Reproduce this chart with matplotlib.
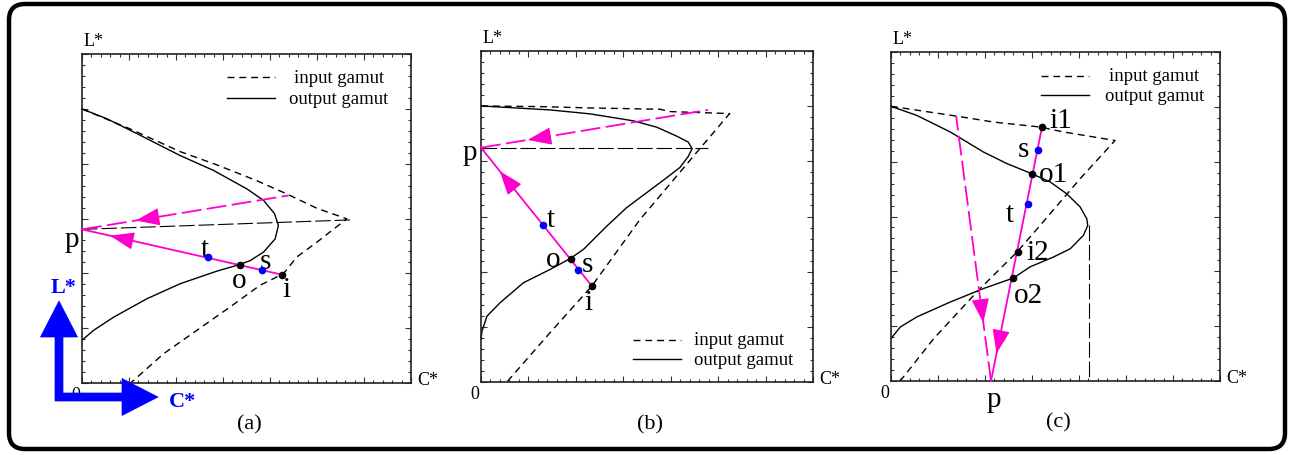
import numpy as np
import matplotlib
matplotlib.use("Agg")
import matplotlib.pyplot as plt
from matplotlib.patches import FancyBboxPatch, Polygon

plt.rcParams["font.family"] = ["Liberation Serif", "DejaVu Serif"]

MAG = "#ff00cc"
BLUE = "#0000ff"
W, H = 1293, 456

# ---------------- panel (a) ----------------
a_out_c = [0, 7.6, 16.7, 29.9, 40.0, 50.1, 55.2, 58.5, 59.7, 58.7, 55.2, 51.1, 47.9, 41.0, 29.9, 19.7, 9.6, 3.5, 0]
a_out_l = [83.3, 80.3, 75.8, 69.1, 64.6, 59.0, 55.5, 51.5, 47.9, 43.8, 39.8, 37.2, 36.0, 34.0, 30.2, 25.6, 20.0, 16.0, 13.0]
a_in_c = [0, 14.7, 29.9, 41.0, 53.1, 62.2, 71.4, 80.5, 71.4, 65.3, 61.2, 54.1, 45.0, 34.9, 24.8, 15.7, 14.7]
a_in_l = [83.3, 77.2, 70.3, 66.3, 61.5, 57.5, 53.1, 49.9, 42.8, 38.3, 33.2, 29.7, 23.1, 16.0, 8.9, 0.8, 0]
a_p = (0, 46.7)
a_solid_end = (60.9, 32.9)
a_dash_end = (62.8, 57.0)
a_ref_c = [0, 82.5]
a_ref_l = [46.7, 49.6]
a_pt_c = [38.2, 47.9, 54.7, 60.9]
a_pt_l = [38.2, 36.0, 34.2, 32.9]
a_pt_col = [BLUE, "black", BLUE, "black"]
a_lab = ["p", "t", "o", "s", "i"]
a_lab_c = [-3.2, 37.2, 47.9, 55.7, 62.2]
a_lab_l = [43.8, 40.8, 31.2, 37.2, 28.6]

# ---------------- panel (b) ----------------
b_out_c = [0, 20.8, 32.9, 45.9, 52.9, 58.9, 62.4, 63.6, 62.4, 59.9, 55.9, 49.9, 43.9, 37.9, 30.9, 26.9, 20.8, 12.8, 5.8, 1.8, 0.3, 0]
b_out_l = [83.4, 82.2, 81.0, 78.9, 77.0, 74.3, 72.5, 70.5, 68.1, 64.8, 61.7, 57.2, 52.7, 47.1, 40.1, 37.3, 34.0, 30.0, 24.0, 19.9, 15.4, 12.9]
b_in_c = [0, 17.8, 32.9, 53.9, 56.9, 74.9, 64.9, 47.9, 33.4, 20.8, 7.8]
b_in_l = [83.4, 83.2, 82.8, 82.4, 81.7, 81.1, 69.3, 49.1, 29.0, 14.9, 0]
b_p = (0, 70.8)
b_solid_end = (33.4, 29.0)
b_dash_end = (68.4, 82.2)
b_ref_c = [0, 68.4]
b_ref_l = [70.8, 70.8]
b_pt_c = [18.6, 27.0, 29.3, 33.4]
b_pt_l = [47.4, 37.1, 33.8, 29.0]
b_pt_col = [BLUE, "black", BLUE, "black"]
b_lab = ["p", "t", "o", "s", "i"]
b_lab_c = [-3.4, 21.1, 21.8, 32.0, 32.5]
b_lab_l = [69.5, 49.1, 37.1, 35.5, 24.2]

# ---------------- panel (c) ----------------
c_out_c = [0, 7.9, 18.0, 28.1, 35.2, 42.8, 48.4, 53.4, 57.5, 59.5, 59.8, 58.5, 54.5, 49.4, 42.3, 37.2, 28.1, 18.0, 7.9, 2.8, 0]
c_out_l = [83.5, 80.7, 75.7, 69.6, 66.1, 63.0, 60.5, 56.9, 52.9, 49.3, 47.3, 44.3, 40.2, 37.7, 34.7, 31.3, 28.1, 24.0, 19.5, 16.4, 12.9]
c_in_c = [0, 20.0, 31.2, 45.3, 52.4, 68.1, 57.5, 44.3, 38.3, 26.6, 13.0, 2.8]
c_in_l = [83.5, 80.5, 78.7, 77.2, 75.7, 73.1, 61.5, 46.1, 39.2, 27.6, 12.9, 0]
c_p = (30.4, 0)
c_solid_end = (45.9, 77.2)
c_dash_end = (19.8, 80.5)
c_ref_c = [60.2, 60.2]
c_ref_l = [47.3, 0]
c_pt_c = [45.9, 44.6, 43.0, 41.6, 38.5, 37.0]
c_pt_l = [77.2, 70.1, 63.0, 53.7, 39.2, 31.2]
c_pt_col = ["black", BLUE, "black", BLUE, "black", "black"]
c_lab = ["p", "i1", "s", "o1", "t", "i2", "o2"]
c_lab_c = [31.4, 51.6, 40.3, 49.4, 36.0, 44.5, 41.9]
c_lab_l = [-5.4, 79.2, 70.6, 63.0, 50.9, 39.2, 26.2]


def head(ax, p, q, frac):
    # filled arrow head on the segment q -> p, pointing at p
    p = np.array(p, float)
    q = np.array(q, float)
    d = q - p
    tip = p + frac * d
    tail = tip + d / np.linalg.norm(d) * 7
    ax.annotate("", xy=tip, xytext=tail,
                arrowprops=dict(arrowstyle="-|>,head_length=1.5,head_width=0.55",
                                color=MAG, lw=1, shrinkA=0, shrinkB=0,
                                mutation_scale=10))


def panel(box, out_c, out_l, in_c, in_l, p, solid_end, dash_end, ref_c, ref_l,
          pt_c, pt_l, pt_col, lab, lab_c, lab_l, heads, tag, legend):
    x0, y0, x1, y1 = box
    ax = fig.add_axes([x0 / W, 1 - y1 / H, (x1 - x0) / W, (y1 - y0) / H])
    ax.set_xlim(0, 100)
    ax.set_ylim(0, 100)
    ax.set_xticks(np.linspace(0, 100, 8))
    ax.set_xticks(np.linspace(0, 100, 36), minor=True)
    ax.set_yticks(np.linspace(0, 100, 7))
    ax.set_yticks(np.linspace(0, 100, 31), minor=True)
    ax.tick_params(which="both", direction="in", top=True, right=True,
                   labelbottom=False, labelleft=False, width=0.8, color="#333333")
    ax.tick_params(which="major", length=4.5)
    ax.tick_params(which="minor", length=2.5)
    for s in ax.spines.values():
        s.set_linewidth(1.2)
        s.set_color("#222222")

    ax.plot(out_c, out_l, color="black", lw=1.0, clip_on=False)
    ax.plot(in_c, in_l, color="black", lw=1.0, dashes=(5, 3.5), clip_on=False)
    ax.plot(ref_c, ref_l, color="black", lw=0.8, dashes=(14, 3.5))

    ax.plot([p[0], solid_end[0]], [p[1], solid_end[1]], color=MAG, lw=1.3,
            clip_on=False, zorder=3)
    ax.plot([p[0], dash_end[0]], [p[1], dash_end[1]], color=MAG, lw=1.3,
            dashes=(11, 3), clip_on=False, zorder=3)
    head(ax, p, solid_end, heads[0])
    head(ax, p, dash_end, heads[1])

    for c, l, col in zip(pt_c, pt_l, pt_col):
        ax.plot(c, l, "o", ms=4.5, color=col, zorder=5, clip_on=False)
    for t, c, l in zip(lab, lab_c, lab_l):
        ax.text(c, l, t, fontsize=21, ha="center", va="center", clip_on=False)

    # axis names
    ax.text(0.035, 1.04, "L*", transform=ax.transAxes, fontsize=13,
            ha="center", va="center")
    ax.text(1.02, 0.01, "C*", transform=ax.transAxes, fontsize=13,
            ha="left", va="center")
    ax.text(-0.02, -0.035, "0", transform=ax.transAxes, fontsize=13,
            ha="center", va="center")
    ax.text(0.51, -0.125, tag, transform=ax.transAxes, fontsize=16,
            ha="center", va="center")

    # legend
    lx0, lx1, ly1, ly2, tx, ha = legend
    ax.plot([lx0, lx1], [ly1, ly1], color="black", lw=1.0, dashes=(5, 3.5),
            transform=ax.transAxes)
    ax.plot([lx0, lx1], [ly2, ly2], color="black", lw=1.0, transform=ax.transAxes)
    ax.text(tx, ly1, "input gamut", transform=ax.transAxes, fontsize=13.5,
            ha=ha, va="center")
    ax.text(tx, ly2, "output gamut", transform=ax.transAxes, fontsize=13.5,
            ha=ha, va="center")
    return ax


fig = plt.figure(figsize=(W / 100, H / 100), dpi=100)

panel((82, 55, 411, 384), a_out_c, a_out_l, a_in_c, a_in_l, a_p, a_solid_end,
      a_dash_end, a_ref_c, a_ref_l, a_pt_c, a_pt_l, a_pt_col, a_lab, a_lab_c,
      a_lab_l, (0.14, 0.26), "(a)", (0.44, 0.587, 0.93, 0.866, 0.78, "center"))
panel((481, 52, 813, 383), b_out_c, b_out_l, b_in_c, b_in_l, b_p, b_solid_end,
      b_dash_end, b_ref_c, b_ref_l, b_pt_c, b_pt_l, b_pt_col, b_lab, b_lab_c,
      b_lab_l, (0.17, 0.205), "(b)", (0.458, 0.602, 0.127, 0.069, 0.642, "left"))
panel((891, 53, 1220, 382), c_out_c, c_out_l, c_in_c, c_in_l, c_p, c_solid_end,
      c_dash_end, c_ref_c, c_ref_l, c_pt_c, c_pt_l, c_pt_col, c_lab, c_lab_c,
      c_lab_l, (0.108, 0.22), "(c)", (0.455, 0.601, 0.928, 0.869, 0.80, "center"))

# overlay in pixel units: rounded frame and the blue L*/C* arrow
ov = fig.add_axes([0, 0, 1, 1], zorder=10)
ov.set_xlim(0, W)
ov.set_ylim(H, 0)
ov.axis("off")
ov.patch.set_alpha(0)
ov.add_patch(FancyBboxPatch((9, 5), 1276, 445,
                            boxstyle="round,pad=0,rounding_size=16",
                            lw=3.2, ec="black", fc="none"))
arrow_x = [55, 55, 40.5, 59, 77.5, 63, 63, 122, 122, 158, 122, 122]
arrow_y = [402, 338, 338, 302, 338, 338, 394, 394, 379.5, 398, 416.5, 402]
ov.add_patch(Polygon(np.column_stack([arrow_x, arrow_y]), closed=True,
                     fc=BLUE, ec=BLUE, lw=0.5))
ov.text(64, 288, "L*", color=BLUE, fontsize=16, fontweight="bold",
        ha="center", va="center")
ov.text(183, 402, "C*", color=BLUE, fontsize=16, fontweight="bold",
        ha="center", va="center")

fig.savefig("out.png", dpi=100)
